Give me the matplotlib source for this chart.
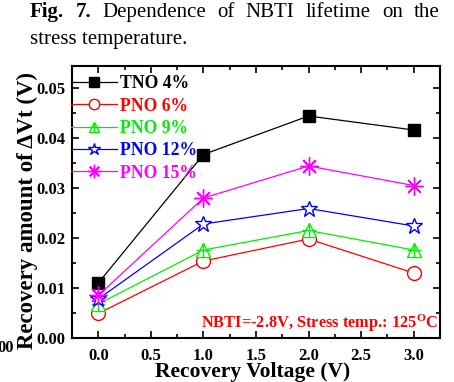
import matplotlib
matplotlib.use("Agg")
import matplotlib.pyplot as plt
from matplotlib.ticker import MultipleLocator
from matplotlib.lines import Line2D

plt.rcParams["font.family"] = ["Liberation Serif", "DejaVu Serif"]
plt.rcParams["mathtext.fontset"] = "custom"
plt.rcParams["mathtext.rm"] = "Liberation Serif:bold"
plt.rcParams["mathtext.it"] = "Liberation Serif:bold"
plt.rcParams["mathtext.bf"] = "Liberation Serif:bold"

recovery_voltage = [0.0, 1.0, 2.0, 3.0]
tno_4 = [0.0110, 0.0367, 0.0444, 0.0416]
pno_6 = [0.0049, 0.0154, 0.0198, 0.0130]
pno_9 = [0.0068, 0.0176, 0.0215, 0.0176]
pno_12 = [0.0078, 0.0228, 0.0259, 0.0224]
pno_15 = [0.0085, 0.0280, 0.0344, 0.0305]

series_labels = ["TNO 4%", "PNO 6%", "PNO 9%", "PNO 12%", "PNO 15%"]
series_colors = ["black", "#ff0000", "#00ee00", "#0000ff", "#ff00ff"]
series_values = [tno_4, pno_6, pno_9, pno_12, pno_15]
series_markers = ["s", "o", "^", "*", (8, 2, 0)]
series_sizes = [9, 10, 10, 12, 13]

caption_line1 = [("Fig.", "bold"), ("7.", "bold"), ("Dependence", "normal"),
                 ("of", "normal"), ("NBTI", "normal"), ("lifetime", "normal"),
                 ("on", "normal"), ("the", "normal")]
caption_line2 = "stress temperature."

W, H = 454, 382
fig = plt.figure(figsize=(W / 100, H / 100), dpi=100)
ax = fig.add_axes([0.1586, 0.1152, 0.8106, 0.712])

handles = []
for vals, col, mk, ms, lab in zip(series_values, series_colors,
                                  series_markers, series_sizes, series_labels):
    filled = col == "black"
    line, = ax.plot(recovery_voltage, vals, color=col, lw=0.9,
                    marker=mk, ms=ms, mew=1.0, mec=col,
                    mfc=col if filled else "white", label=lab)
    if mk == "^":
        # cross inside the triangle
        ax.plot(recovery_voltage, vals, ls="none", marker="+", ms=ms,
                mew=1.0, color=col)
        handles.append((line, Line2D([], [], ls="none", marker="+", ms=ms,
                                     mew=1.0, color=col)))
    else:
        handles.append(line)

ax.set_xlim(-0.25, 3.25)
ax.set_ylim(0.0, 0.0544)
ax.xaxis.set_major_locator(MultipleLocator(0.5))
ax.xaxis.set_minor_locator(MultipleLocator(0.25))
ax.yaxis.set_major_locator(MultipleLocator(0.01))
ax.yaxis.set_minor_locator(MultipleLocator(0.005))
ax.tick_params(which="both", direction="in", top=True, right=True,
               width=1.2, labelsize=12)
ax.tick_params(which="major", length=5, pad=5)
ax.tick_params(axis="x", which="major", pad=7)
ax.tick_params(which="minor", length=3)
for lbl in ax.get_xticklabels() + ax.get_yticklabels():
    lbl.set_fontweight("bold")
for sp in ax.spines.values():
    sp.set_linewidth(1.5)

ax.set_xlabel("Recovery Voltage (V)", fontsize=15.5, fontweight="bold")
ax.set_ylabel("Recovery amount of \u0394Vt (V)", fontsize=16.5,
              fontweight="bold")
ax.xaxis.set_label_coords(0.49, -0.09)
ax.yaxis.set_label_coords(-0.092, 0.467)

leg = ax.legend(handles, series_labels, loc="upper left", frameon=False,
                prop={"weight": "bold", "size": 12.7}, markerscale=0.75,
                handlelength=2.6, handletextpad=0.15, labelspacing=0.3,
                borderaxespad=0.0, borderpad=0.3,
                bbox_to_anchor=(-0.016, 0.985))
for txt, col in zip(leg.get_texts(), series_colors):
    txt.set_color(col)

ax.text(0.995, 0.037, r"NBTI=-2.8V, Stress temp.: 125$^{\mathrm{O}}$C",
        transform=ax.transAxes, ha="right", va="baseline", color="#ff0000",
        fontsize=11.8, fontweight="bold")

# caption: first line justified between x=30 and x=440 px
renderer = fig.canvas.get_renderer()
cap_size = 15
left_px, right_px = 30, 440
words = []
for word, wt in caption_line1:
    t = fig.text(0, 1 - 17 / H, word, fontsize=cap_size, fontweight=wt,
                 ha="left", va="baseline")
    words.append((t, t.get_window_extent(renderer).width))
gap = (right_px - left_px - sum(w for _, w in words)) / (len(words) - 1)
x = left_px
for t, w in words:
    t.set_x(x / W)
    x += w + gap
fig.text(left_px / W, 1 - 44 / H, caption_line2, fontsize=cap_size,
         ha="left", va="baseline")
fig.text(-3 / W, 1 - 352 / H, "00", fontsize=12, fontweight="bold",
         ha="left", va="baseline")

fig.savefig("out.png", dpi=100)
